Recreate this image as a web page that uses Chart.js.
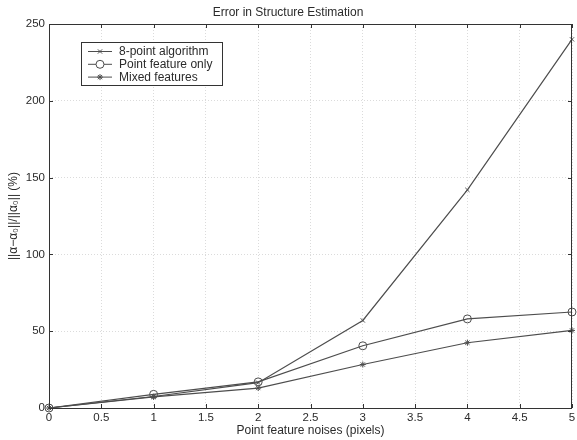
<!DOCTYPE html>
<html>
<head>
<meta charset="utf-8">
<script src="https://cdn.jsdelivr.net/npm/chart.js@4/dist/chart.umd.min.js"></script>
<style>
  body { margin: 0; background: #fff; }
  #wrap { width: 577px; height: 440px; }
</style>
</head>
<body>
<div id="wrap"><canvas id="errChart" width="577" height="440"></canvas></div>
<script>
// noise levels (pixels) on the x axis
const noise = [0, 1, 2, 3, 4, 5];
// error in structure estimation (%)
const eightPoint = [0, 7.5, 16.5, 57, 142, 240];
const pointOnly = [0, 8.9, 17, 40.5, 58, 62.5];
const mixed = [0, 7.2, 13, 28.3, 42.5, 50.5];

const seriesNames = ["8-point algorithm", "Point feature only", "Mixed features"];
const xTicks = [0, 0.5, 1, 1.5, 2, 2.5, 3, 3.5, 4, 4.5, 5];
const yTicks = [0, 50, 100, 150, 200, 250];

const lineColor = "#4d4d4d";
const axisColor = "#333";
const textColor = "#2b2b2b";
const gridColor = "rgba(0,0,0,0.14)";
const fontFamily = "'Liberation Sans', Arial, sans-serif";

function toPoints(values) {
    return values.map((v, i) => ({ x: noise[i], y: v }));
}

// box round the plot with small inward ticks (matlab style)
const boxPlugin = {
    id: "plotBox",
    afterDatasetsDraw(chart) {
        const { ctx, chartArea: a, scales } = chart;
        ctx.save();
        ctx.strokeStyle = axisColor;
        ctx.lineWidth = 1;
        ctx.strokeRect(a.left + 0.5, a.top + 0.5, a.right - a.left - 1, a.bottom - a.top);
        ctx.beginPath();
        xTicks.forEach((t) => {
            const px = Math.round(scales.x.getPixelForValue(t)) + 0.5;
            ctx.moveTo(px, a.bottom);
            ctx.lineTo(px, a.bottom - 4);
            ctx.moveTo(px, a.top);
            ctx.lineTo(px, a.top + 4);
        });
        yTicks.forEach((t) => {
            const py = Math.round(scales.y.getPixelForValue(t)) + 0.5;
            ctx.moveTo(a.left, py);
            ctx.lineTo(a.left + 4, py);
            ctx.moveTo(a.right, py);
            ctx.lineTo(a.right - 4, py);
        });
        ctx.stroke();
        ctx.restore();
    },
};

// legend drawn inside the plot, top left, with a frame
const legendPlugin = {
    id: "boxLegend",
    afterDraw(chart) {
        const { ctx } = chart;
        const left = 81, top = 42, w = 141, h = 43;
        ctx.save();
        ctx.fillStyle = "#fff";
        ctx.fillRect(left, top, w, h);
        ctx.strokeStyle = axisColor;
        ctx.lineWidth = 1;
        ctx.strokeRect(left + 0.5, top + 0.5, w, h);
        ctx.font = "12px " + fontFamily;
        ctx.textBaseline = "middle";
        chart.data.datasets.forEach((ds, i) => {
            const y = 51.5 + i * 12.8;
            ctx.strokeStyle = lineColor;
            ctx.lineWidth = 1;
            ctx.beginPath();
            ctx.moveTo(88, y);
            ctx.lineTo(112, y);
            ctx.stroke();
            ctx.fillStyle = "#fff";
            Chart.helpers.drawPoint(ctx, {
                pointStyle: ds.pointStyle,
                radius: ds.pointRadius,
                rotation: 0,
                borderWidth: 1,
            }, 100, y);
            ctx.fillStyle = textColor;
            ctx.fillText(ds.label, 119, y + 0.5);
        });
        ctx.restore();
    },
};

const ctx = document.getElementById("errChart").getContext("2d");
new Chart(ctx, {
    type: "line",
    data: {
        datasets: [
            { label: seriesNames[0], data: toPoints(eightPoint), pointStyle: "crossRot", pointRadius: 3 },
            { label: seriesNames[1], data: toPoints(pointOnly), pointStyle: "circle", pointRadius: 4 },
            { label: seriesNames[2], data: toPoints(mixed), pointStyle: "star", pointRadius: 3 },
        ].map((ds) => Object.assign(ds, {
            borderColor: lineColor,
            borderWidth: 1.2,
            pointBorderColor: lineColor,
            pointBackgroundColor: "rgba(0,0,0,0)",
            pointBorderWidth: 1,
            tension: 0,
            clip: false,
        })),
    },
    options: {
        responsive: false,
        maintainAspectRatio: false,
        animation: false,
        layout: { padding: { left: 0, right: 1, top: 0, bottom: 0 } },
        plugins: {
            legend: { display: false },
            tooltip: { enabled: false },
            title: {
                display: true,
                text: "Error in Structure Estimation",
                color: textColor,
                font: { family: fontFamily, size: 12, weight: "normal" },
                padding: { top: 5, bottom: 4.6 },
            },
        },
        scales: {
            x: {
                type: "linear",
                min: 0,
                max: 5,
                afterBuildTicks: (scale) => { scale.ticks = xTicks.map((v) => ({ value: v })); },
                afterFit: (scale) => {
                    scale.height = 32;
                    scale.paddingLeft = 0;
                    scale.paddingRight = 0;
                },
                grid: { color: gridColor, lineWidth: 1, drawTicks: false },
                border: { display: false, dash: [1, 2] },
                ticks: {
                    color: textColor,
                    padding: 3,
                    maxRotation: 0,
                    autoSkip: false,
                    font: { family: fontFamily, size: 11.5 },
                    callback: (v) => String(v),
                },
                title: {
                    display: true,
                    text: "Point feature noises (pixels)",
                    color: textColor,
                    font: { family: fontFamily, size: 12 },
                    padding: { top: 0, bottom: 1.8 },
                },
            },
            y: {
                min: 0,
                max: 250,
                afterBuildTicks: (scale) => { scale.ticks = yTicks.map((v) => ({ value: v })); },
                afterFit: (scale) => {
                    scale.width = 49;
                    scale.paddingTop = 0;
                    scale.paddingBottom = 0;
                },
                grid: { color: gridColor, lineWidth: 1, drawTicks: false },
                border: { display: false, dash: [1, 2] },
                ticks: {
                    color: textColor,
                    padding: 4,
                    autoSkip: false,
                    font: { family: fontFamily, size: 11.5 },
                    callback: (v) => String(v),
                },
                title: {
                    display: true,
                    text: "||α−α₀||/||α₀|| (%)",
                    color: textColor,
                    font: { family: fontFamily, size: 12 },
                    padding: { top: 6.3, bottom: 0 },
                },
            },
        },
    },
    plugins: [boxPlugin, legendPlugin],
});
</script>
</body>
</html>
